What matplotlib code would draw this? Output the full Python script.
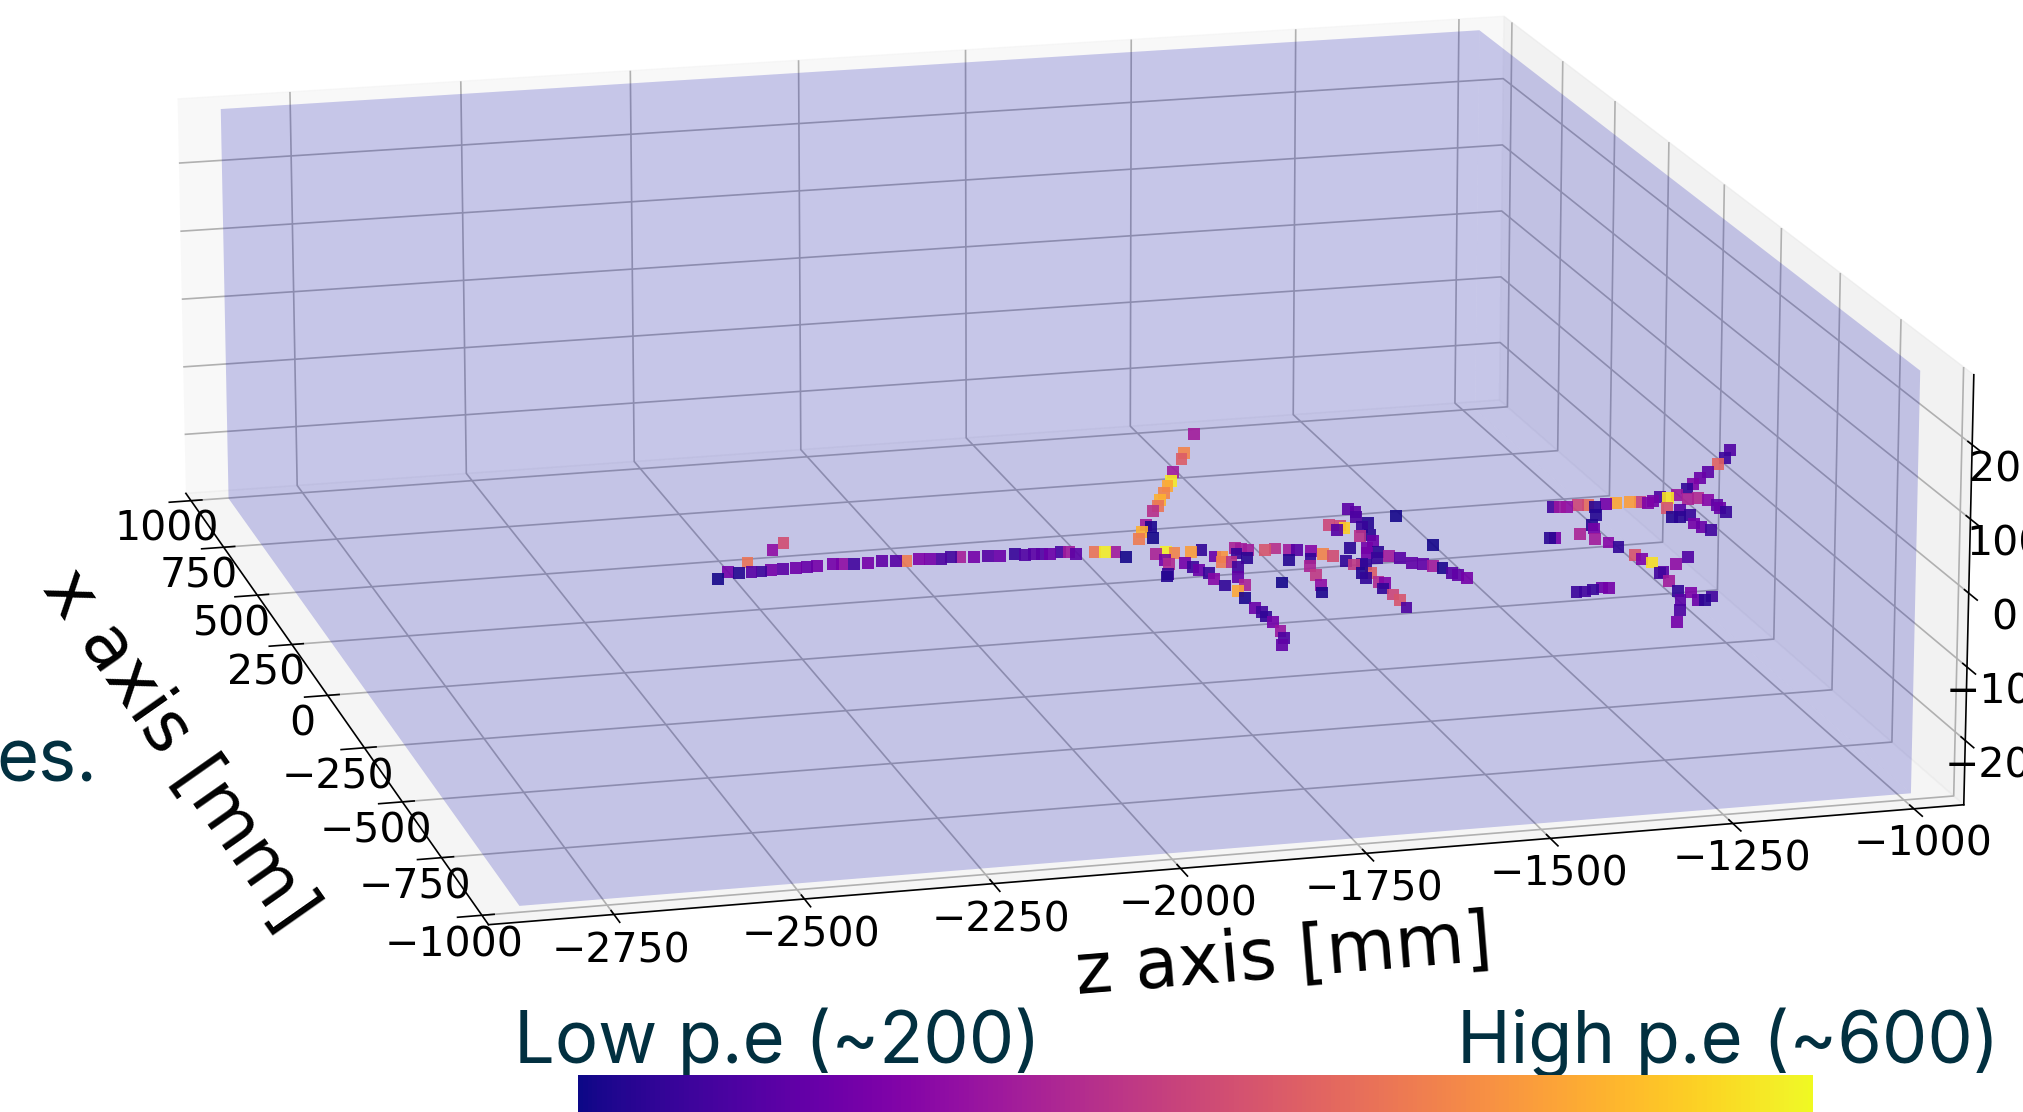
import matplotlib
matplotlib.use('Agg')
import matplotlib.pyplot as plt
from matplotlib.cm import ScalarMappable
from matplotlib.colors import Normalize
from mpl_toolkits.mplot3d.art3d import Poly3DCollection

# hits. the height is not readable so they all sit on y = 0
z_mm = [-2497,-2477,-2465,-2447,-2434,-2421,-2404,-2386,-2371,-2357,-2335,-2323,-2308,-2288,-2268,-2251,-2237,
    -2219,-2205,-2190,-2176,-2164,-2147,-2127,-2112,-2090,-2079,-2066,-2056,-2045,-2030,-2019,-2012,-1985,
    -1973,-1959,-1952,-2442,-2396,-2374,-1702,-1742,-1753,-1782,-1795,-1807,-1820,-1835,-1846,-1858,-1886,
    -1881,-1900,-1893,-1913,-1909,-1895,-1885,-1906,-1906,-1920,-1924,-1863,-1847,-1884,-1879,-1875,-1867,
    -1867,-1862,-1852,-1836,-1853,-1852,-1848,-1849,-1847,-1849,-1853,-1865,-1838,-1828,-1836,-1824,-1806,
    -1799,-1821,-1834,-1801,-1794,-1786,-1765,-1750,-1734,-1724,-1747,-1786,-1707,-1718,-1696,-1685,-1728,
    -1733,-1739,-1748,-1676,-1670,-1660,-1655,-1672,-1673,-1660,-1662,-1656,-1665,-1661,-1659,-1661,-1603,
    -1597,-1604,-1596,-1550,-1542,-1610,-1649,-1636,-1634,-1646,-1624,-1610,-1614,-1654,-1632,-1639,-1622,
    -1633,-1614,-1603,-1594,-1582,-1572,-1562,-1557,-1552,-1544,-1015,-1035,-1053,-1078,-1099,-1117,-1132,
    -1334,-1325,-1316,-1299,-1286,-1280,-1261,-1247,-1226,-1213,-1205,-1195,-1179,-1171,-1187,-1155,-1147,
    -1132,-1122,-1118,-1119,-1116,-1174,-1195,-1185,-1168,-1176,-1171,-1164,-1290,-1310,-1312,-1339,-1326,
    -1314,-1307,-1298,-1295,-1287,-1292,-1286,-1292,-1234,-1259,-1295,-1281,-1283,-1260,-1274,-1305,-1320,
    -1341,-1382,-1376,-1425,-1414,-1401,-1387,-1378]
x_mm = [-555,-527,-536,-533,-536,-533,-533,-531,-529,-529,-527,-530,-534,-531,-528,-533,-535,
    -532,-535,-539,-535,-538,-542,-540,-544,-541,-549,-548,-550,-553,-549,-552,-562,-559,
    -563,-566,-594,-490,-440,-410,-31,-122,-150,-210,-250,-274,-305,-339,-366,-387,-451,
    -461,-484,-513,-516,-588,-585,-591,-641,-620,-684,-696,-593,-588,-639,-660,-677,-695,
    -721,-756,-785,-760,-820,-865,-885,-908,-933,-975,-1006,-1037,-621,-624,-647,-653,-614,
    -640,-675,-720,-590,-595,-602,-608,-604,-616,-619,-662,-761,-627,-662,-646,-657,-696,
    -739,-786,-820,-686,-704,-705,-708,-747,-771,-750,-790,-800,-822,-852,-879,-915,-446,
    -461,-488,-517,-495,-641,-536,-514,-520,-535,-540,-576,-575,-602,-629,-635,-658,-654,
    -684,-678,-692,-716,-725,-738,-749,-776,-787,-802,-298,-336,-361,-394,-423,-447,-466,
    -507,-510,-512,-508,-511,-523,-511,-512,-509,-512,-523,-514,-496,-506,-550,-494,-518,
    -517,-528,-554,-571,-589,-565,-596,-599,-592,-632,-650,-668,-559,-604,-621,-643,-670,
    -691,-713,-757,-777,-797,-845,-842,-884,-785,-811,-933,-944,-979,-969,-982,-973,-1017,
    -1070,-649,-650,-902,-904,-897,-892,-895]
pe_vals = [205,290,215,260,235,290,265,285,275,290,290,320,240,290,270,260,470,300,290,250,240,345,290,260,280,
    230,255,265,255,280,245,340,265,460,590,340,205,460,320,410,340,480,430,340,585,520,480,530,460,370,340,210,530,205,470,
    350,590,480,360,290,230,215,510,225,290,235,280,230,310,225,520,350,210,280,240,225,290,330,250,270,
    280,500,470,370,230,220,240,270,350,340,340,420,370,340,260,215,205,310,225,480,410,350,380,320,210,225,380,225,225,215,225,430,360,300,225,400,420,250,
    265,265,250,215,205,205,230,400,400,560,260,370,220,280,220,290,290,220,230,340,260,270,270,340,210,260,270,290,
    255,235,440,265,280,300,225,240,330,320,400,450,220,290,520,510,390,300,290,250,580,420,330,350,360,310,270,280,230,
    260,215,220,230,290,280,240,215,215,290,350,340,310,225,420,300,575,240,265,340,255,320,225,300,280,240,220,265,250,290,
    220,290,235,240,230,280,290]
y_level = 0

z_ticks = [-2750,-2500,-2250,-2000,-1750,-1500,-1250,-1000]
x_ticks = [-1000,-750,-500,-250,0,250,500,750,1000]
y_ticks = [-200,-100,0,100,200]

# detector volume
box_z = (-2866,-993)
box_x = (-1007,960)
box_y = (-277,295)

pe_low = 200
pe_high = 600

text_col = '#023040'
font = ['Inter','DejaVu Sans']

plt.rcParams['grid.linewidth'] = 1.2
plt.rcParams['axes.linewidth'] = 1.2
plt.rcParams['xtick.major.width'] = 1.2
plt.rcParams['ytick.major.width'] = 1.2

fig = plt.figure(figsize=(20.24,11.12),dpi=100)

# axes is bigger than the figure height, the box was fitted to the reference
s = 2070.771
cx = 1005.4965
cy = 465.122
ax = fig.add_axes([(cx-s/2)/2024,(1112-cy-s/2)/1112,s/2024,s/1112],projection='3d')
ax.patch.set_alpha(0)
ax.view_init(elev=15.6018,azim=-104.8324)
ax.set_proj_type('persp',focal_length=1.003)
ax.set_box_aspect((1,1.0453,0.2957))
ax.computed_zorder = False

ax.set_xlim(-2913.48,-930.78)
ax.set_ylim(-1040,1040)
ax.set_zlim(-287.73,293.81)
ax.set_xticks(z_ticks)
ax.set_yticks(x_ticks)
ax.set_zticks(y_ticks)
ax.tick_params(labelsize=29.5,pad=6)
ax.zaxis.set_ticks_position('lower')
ax.xaxis.set_pane_color((0.90,0.90,0.90,0.5))
ax.yaxis.set_pane_color((0.95,0.95,0.95,0.5))

ax.set_xlabel('z axis [mm]',fontsize=51,labelpad=58)
ax.set_ylabel('x axis [mm]',fontsize=51,labelpad=60)

z0,z1 = box_z
x0,x1 = box_x
y0,y1 = box_y
walls = [[(z0,x1,y0),(z1,x1,y0),(z1,x1,y1),(z0,x1,y1)],
    [(z1,x0,y0),(z1,x1,y0),(z1,x1,y1),(z1,x0,y1)],
    [(z0,x0,y0),(z1,x0,y0),(z1,x1,y0),(z0,x1,y0)]]
ax.add_collection3d(Poly3DCollection(walls,facecolor=(0,0,0.67,0.2),edgecolor='none',zorder=1))

ax.scatter(z_mm,x_mm,zs=y_level,c=pe_vals,cmap='plasma',vmin=pe_low,vmax=pe_high,marker='s',s=72,
    linewidths=0,alpha=0.9,depthshade=False,zorder=2)

cax = fig.add_axes([578/2024,0,1235/2024,37/1112],zorder=5)
cb = fig.colorbar(ScalarMappable(Normalize(pe_low,pe_high),'plasma'),cax=cax,orientation='horizontal')
cb.set_ticks([])
cb.outline.set_visible(False)

fig.text(514/2024,1-1063/1112,'Low p.e (~200)',fontsize=52,color=text_col,family=font,va='baseline')
fig.text(1999/2024,1-1063/1112,'High p.e (~600)',fontsize=52,color=text_col,family=font,va='baseline',ha='right')
fig.text(97/2024,1-782/1112,'es.',fontsize=52,color=text_col,family=font,va='baseline',ha='right')

fig.savefig('out.png',dpi=100)
